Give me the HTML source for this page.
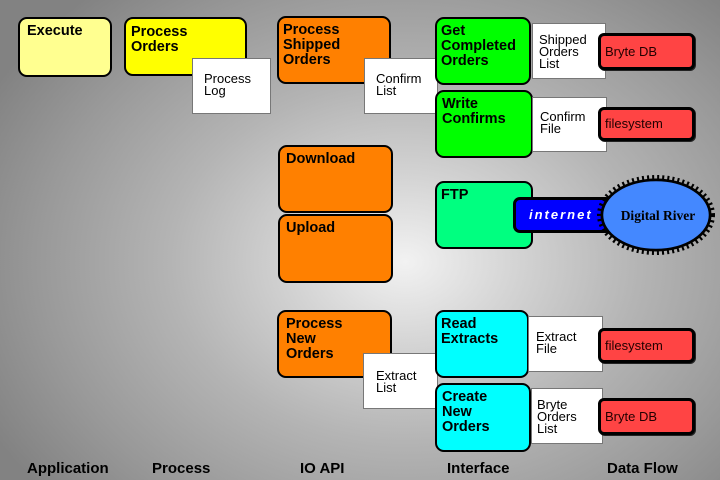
<!DOCTYPE html>
<html><head><meta charset="utf-8"><style>
html,body{margin:0;padding:0}
body{width:720px;height:480px;position:relative;overflow:hidden;
background:radial-gradient(ellipse 470px 360px at 405px 262px,#f2f2f2 0%,#d2d2d2 25%,#b4b4b4 50%,#999 78%,#828282 100%);
font-family:"Liberation Sans",sans-serif;}
.b{position:absolute;border:2px solid #000;border-radius:9px;box-sizing:border-box;font:bold 14.5px/15px "Liberation Sans",sans-serif;color:#000;padding-top:5px;white-space:nowrap}
.w{position:absolute;background:#fff;border:1px solid #777;box-sizing:border-box;font:13px/12px "Liberation Sans",sans-serif;color:#000;white-space:nowrap}
.r{position:absolute;background:#ff4444;border:3px solid #000;border-radius:6px;box-sizing:border-box;font:13px "Liberation Sans",sans-serif;color:#200;padding-left:4px;white-space:nowrap;box-shadow:1px 1px 0 #222}
.l{position:absolute;top:461px;font:bold 15px/15px "Liberation Sans",sans-serif;color:#000;white-space:nowrap}
</style></head><body>

<div class="b" style="left:18px;top:17px;width:94px;height:60px;background:#ffff90;padding-left:7px">Execute</div>
<div class="b" style="left:124px;top:17px;width:123px;height:59px;background:#ffff00;padding-left:5px;padding-top:6px">Process<br>Orders</div>
<div class="w" style="left:192px;top:58px;width:79px;height:56px;padding:14px 0 0 11px">Process<br>Log</div>

<div class="b" style="left:277px;top:16px;width:114px;height:68px;background:#ff8000;padding-left:4px">Process<br>Shipped<br>Orders</div>
<div class="w" style="left:364px;top:58px;width:74px;height:56px;padding:14px 0 0 11px">Confirm<br>List</div>

<div class="b" style="left:435px;top:17px;width:96px;height:68px;background:#00ff00;padding-left:4px">Get<br>Completed<br>Orders</div>
<div class="b" style="left:435px;top:90px;width:98px;height:68px;background:#00ff00;padding-left:5px">Write<br>Confirms</div>
<div class="w" style="left:532px;top:23px;width:74px;height:56px;padding:10px 0 0 6px">Shipped<br>Orders<br>List</div>
<div class="w" style="left:532px;top:97px;width:75px;height:55px;padding:13px 0 0 7px">Confirm<br>File</div>
<div class="r" style="left:598px;top:33px;width:97px;height:37px;line-height:31px">Bryte DB</div>
<div class="r" style="left:598px;top:107px;width:97px;height:34px;line-height:28px">filesystem</div>

<div class="b" style="left:278px;top:145px;width:115px;height:68px;background:#ff8000;padding-left:6px">Download</div>
<div class="b" style="left:278px;top:214px;width:115px;height:69px;background:#ff8000;padding-left:6px">Upload</div>

<div class="b" style="left:435px;top:181px;width:98px;height:68px;background:#00ff80;padding-left:4px">FTP</div>
<div style="position:absolute;left:513px;top:197px;width:100px;height:36px;box-sizing:border-box;background:#0000ff;border:3px solid #000;border-radius:7px;color:#fff;font:italic bold 13px/30px 'Liberation Sans',sans-serif;letter-spacing:2px;padding-left:13px;white-space:nowrap">internet</div>
<svg style="position:absolute;left:0;top:0" width="720" height="480">
<ellipse cx="656" cy="215" rx="55.5" ry="36.5" fill="#000" stroke="#000" stroke-width="7" stroke-dasharray="2 3"/>
<ellipse cx="656" cy="215" rx="53.5" ry="34.5" fill="#4488ff" stroke="#000" stroke-width="1.5"/>
<text x="658" y="220" text-anchor="middle" font-family="Liberation Serif,serif" font-weight="bold" font-size="13.5" fill="#000">Digital River</text>
</svg>

<div class="b" style="left:277px;top:310px;width:115px;height:68px;background:#ff8000;padding-left:7px">Process<br>New<br>Orders</div>
<div class="w" style="left:363px;top:353px;width:75px;height:56px;padding:16px 0 0 12px">Extract<br>List</div>
<div class="b" style="left:435px;top:310px;width:94px;height:68px;background:#00ffff;padding-left:4px">Read<br>Extracts</div>
<div class="b" style="left:435px;top:383px;width:96px;height:69px;background:#00ffff;padding-left:5px">Create<br>New<br>Orders</div>
<div class="w" style="left:528px;top:316px;width:75px;height:56px;padding:14px 0 0 7px">Extract<br>File</div>
<div class="w" style="left:531px;top:388px;width:72px;height:56px;padding:10px 0 0 5px">Bryte<br>Orders<br>List</div>
<div class="r" style="left:598px;top:328px;width:97px;height:35px;line-height:29px">filesystem</div>
<div class="r" style="left:598px;top:398px;width:97px;height:37px;line-height:31px">Bryte DB</div>

<div class="l" style="left:27px">Application</div>
<div class="l" style="left:152px">Process</div>
<div class="l" style="left:300px">IO API</div>
<div class="l" style="left:447px">Interface</div>
<div class="l" style="left:607px">Data Flow</div>
</body></html>
